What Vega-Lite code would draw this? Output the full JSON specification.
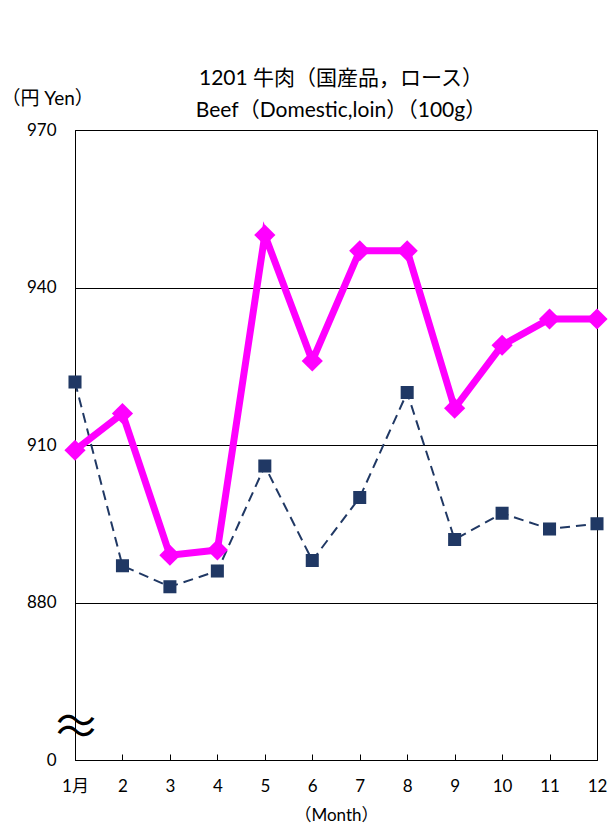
{
  "$schema": "https://vega.github.io/schema/vega-lite/v6.json",
  "width": 522,
  "height": 630,
  "autosize": {"type": "none"},
  "padding": {"left": 75, "top": 130, "right": 12, "bottom": 71},
  "background": "white",
  "config": {"font": "Lato, Noto Sans CJK JP", "view": {"stroke": "black", "strokeWidth": 1}},
  "title": {
    "text": ["1201 牛肉（国産品，ロース）", "Beef（Domestic,loin）（100g）"],
    "fontSize": 21, "fontWeight": "normal", "color": "black", "lineHeight": 32, "offset": 12, "anchor": "middle",
    "font": "Lato, Noto Sans CJK JP", "dy": 44, "dx": 5
  },
  "datasets": {
    "main": [
      {"month": 1, "series": "A", "value": 909},
      {"month": 2, "series": "A", "value": 916},
      {"month": 3, "series": "A", "value": 889},
      {"month": 4, "series": "A", "value": 890},
      {"month": 5, "series": "A", "value": 950},
      {"month": 6, "series": "A", "value": 926},
      {"month": 7, "series": "A", "value": 947},
      {"month": 8, "series": "A", "value": 947},
      {"month": 9, "series": "A", "value": 917},
      {"month": 10, "series": "A", "value": 929},
      {"month": 11, "series": "A", "value": 934},
      {"month": 12, "series": "A", "value": 934},
      {"month": 1, "series": "B", "value": 922},
      {"month": 2, "series": "B", "value": 887},
      {"month": 3, "series": "B", "value": 883},
      {"month": 4, "series": "B", "value": 886},
      {"month": 5, "series": "B", "value": 906},
      {"month": 6, "series": "B", "value": 888},
      {"month": 7, "series": "B", "value": 900},
      {"month": 8, "series": "B", "value": 920},
      {"month": 9, "series": "B", "value": 892},
      {"month": 10, "series": "B", "value": 897},
      {"month": 11, "series": "B", "value": 894},
      {"month": 12, "series": "B", "value": 895}
    ]
  },
  "layer": [
    {
      "data": {"name": "main"},
      "transform": [{"filter": "datum.series == 'B'"}],
      "mark": {"type": "line", "color": "#203864", "strokeWidth": 2, "strokeDash": [10, 6]},
      "encoding": {
        "x": {
          "field": "month", "type": "quantitative",
          "scale": {"domain": [1, 12], "nice": false, "zero": false},
          "axis": {
            "values": [1, 2, 3, 4, 5, 6, 7, 8, 9, 10, 11, 12],
            "labelExpr": "datum.value == 1 ? '1月' : datum.label",
            "labelFlush": false, "labelOverlap": false,
            "grid": false, "domainColor": "black", "tickColor": "black", "tickSize": -6,
            "labelPadding": 24, "labelFontSize": 17, "labelColor": "black", "labelFont": "Lato, Noto Sans CJK JP",
            "title": "（Month）", "titleFontSize": 17, "titleFontWeight": "normal", "titleColor": "black",
            "titlePadding": 13, "titleFont": "Lato, Noto Sans CJK JP"
          }
        },
        "y": {
          "field": "value", "type": "quantitative",
          "scale": {"domain": [850, 970], "nice": false, "zero": false},
          "axis": {
            "values": [850, 880, 910, 940, 970],
            "labelExpr": "datum.value == 850 ? '0' : datum.label",
            "labelFlush": false,
            "grid": true, "gridColor": "black", "gridOpacity": 1, "gridWidth": 1,
            "domainColor": "black", "ticks": false, "labelPadding": 19,
            "labelFontSize": 17, "labelColor": "black", "labelFont": "Lato, Noto Sans CJK JP",
            "title": "（円 Yen）", "titleAngle": 0, "titleAlign": "left", "titleBaseline": "middle",
            "titleX": -74, "titleY": -32, "titleFontSize": 19, "titleFontWeight": "normal", "titleColor": "black",
            "titleFont": "Lato, Noto Sans CJK JP"
          }
        }
      }
    },
    {
      "data": {"name": "main"},
      "transform": [{"filter": "datum.series == 'B'"}],
      "mark": {"type": "point", "shape": "square", "filled": true, "color": "#203864", "opacity": 1, "size": 170},
      "encoding": {
        "x": {"field": "month", "type": "quantitative"},
        "y": {"field": "value", "type": "quantitative"}
      }
    },
    {
      "data": {"name": "main"},
      "transform": [{"filter": "datum.series == 'A'"}],
      "mark": {"type": "line", "color": "#FF00FF", "strokeWidth": 7, "strokeJoin": "miter"},
      "encoding": {
        "x": {"field": "month", "type": "quantitative"},
        "y": {"field": "value", "type": "quantitative"}
      }
    },
    {
      "data": {"name": "main"},
      "transform": [{"filter": "datum.series == 'A'"}],
      "mark": {"type": "point", "shape": "diamond", "filled": true, "color": "#FF00FF", "opacity": 1, "size": 450},
      "encoding": {
        "x": {"field": "month", "type": "quantitative"},
        "y": {"field": "value", "type": "quantitative"}
      }
    },
    {
      "data": {"values": [{"t": ["～", "～"]}]},
      "mark": {"type": "text", "fontSize": 40, "lineHeight": 11, "color": "black", "align": "center", "baseline": "middle", "font": "Noto Sans CJK JP", "dx": 1},
      "encoding": {
        "x": {"datum": 1},
        "y": {"datum": 857},
        "text": {"field": "t"}
      }
    }
  ]
}
